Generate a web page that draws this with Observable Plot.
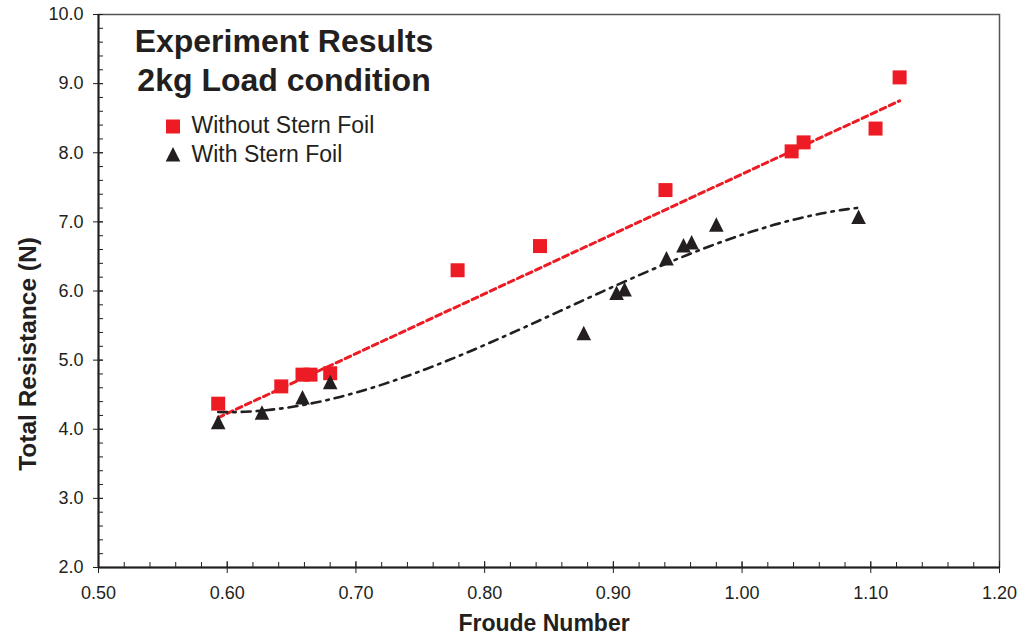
<!DOCTYPE html>
<html>
<head>
<meta charset="utf-8">
<script src="https://cdn.jsdelivr.net/npm/d3@7"></script>
<script src="https://cdn.jsdelivr.net/npm/@observablehq/plot@0.6"></script>
<style>
  html, body { margin: 0; padding: 0; background: #fff; }
  #chart svg { font-family: "Liberation Sans", Arial, sans-serif; }
</style>
</head>
<body>
<div id="chart"></div>
<script>
// ---- Data ----
const froudeWithout = [0.593, 0.642, 0.6585, 0.6647, 0.680, 0.779, 0.843, 0.9405, 1.0385, 1.0478, 1.1037, 1.1224];
const resistWithout = [4.37, 4.62, 4.79, 4.79, 4.81, 6.30, 6.65, 7.46, 8.02, 8.15, 8.35, 9.09];

const froudeWith = [0.593, 0.627, 0.6585, 0.680, 0.877, 0.9025, 0.9087, 0.9413, 0.9545, 0.9608, 0.980, 1.0905];
const resistWith = [4.10, 4.24, 4.46, 4.68, 5.39, 5.97, 6.02, 6.47, 6.66, 6.70, 6.96, 7.07];

// Linear trendline of "Without Stern Foil" as drawn in the reference: [intercept, slope]
const trendWithout = [-0.964, 8.655];

const xTicks = [0.50, 0.60, 0.70, 0.80, 0.90, 1.00, 1.10, 1.20];
const yTicks = [2, 3, 4, 5, 6, 7, 8, 9, 10];
const xMinorTicks = d3.range(0.50, 1.2001, 0.02);
const yMinorTicks = d3.range(2, 10.001, 0.2);

const titleLines = ["Experiment Results", "2kg Load condition"];
const seriesNames = ["Without Stern Foil", "With Stern Foil"];

// ---- Build tables ----
const withoutData = froudeWithout.map((x, i) => ({x, y: resistWithout[i]}));
const withData = froudeWith.map((x, i) => ({x, y: resistWith[i]}));

const [rxMin, rxMax] = d3.extent(froudeWithout);
const redTrend = [rxMin, rxMax].map(x => ({x, y: trendWithout[0] + trendWithout[1] * x}));

// Cubic least-squares trendline for "With Stern Foil"
function polyfit(xs, ys, deg) {
  const m = d3.mean(xs);
  const n = deg + 1;
  const A = Array.from({length: n}, () => new Array(n).fill(0));
  const b = new Array(n).fill(0);
  xs.forEach((x0, k) => {
    const x = x0 - m;
    for (let i = 0; i < n; i++) {
      b[i] += ys[k] * Math.pow(x, i);
      for (let j = 0; j < n; j++) A[i][j] += Math.pow(x, i + j);
    }
  });
  for (let c = 0; c < n; c++) {
    let p = c;
    for (let r = c + 1; r < n; r++) if (Math.abs(A[r][c]) > Math.abs(A[p][c])) p = r;
    [A[c], A[p]] = [A[p], A[c]]; [b[c], b[p]] = [b[p], b[c]];
    for (let r = c + 1; r < n; r++) {
      const f = A[r][c] / A[c][c];
      for (let j = c; j < n; j++) A[r][j] -= f * A[c][j];
      b[r] -= f * b[c];
    }
  }
  const coef = new Array(n).fill(0);
  for (let i = n - 1; i >= 0; i--) {
    let s = b[i];
    for (let j = i + 1; j < n; j++) s -= A[i][j] * coef[j];
    coef[i] = s / A[i][i];
  }
  return x => coef.reduce((acc, c, i) => acc + c * Math.pow(x - m, i), 0);
}
const cubic = polyfit(froudeWith, resistWith, 3);
const [fxMin, fxMax] = d3.extent(froudeWith);
const curve = d3.range(0, 121).map(i => {
  const x = fxMin + (fxMax - fxMin) * i / 120;
  return {x, y: cubic(x)};
});

// ---- Marker symbols ----
const squareSym = {draw(ctx) { const s = 7; ctx.moveTo(-s, -s); ctx.lineTo(s, -s); ctx.lineTo(s, s); ctx.lineTo(-s, s); ctx.closePath(); }};
const triSym = {draw(ctx) { ctx.moveTo(0, -7.5); ctx.lineTo(7.3, 7); ctx.lineTo(-7.3, 7); ctx.closePath(); }};

const RED = "#ed1c24";
const BLACK = "#231f20";
const FONT = "Liberation Sans, Arial, sans-serif";

const chart = Plot.plot({
  width: 1033,
  height: 642,
  marginLeft: 98,
  marginRight: 34,
  marginTop: 14,
  marginBottom: 75,
  style: {fontFamily: FONT, background: "#fff"},
  x: {domain: [0.5, 1.2]},
  y: {domain: [2, 10]},
  marks: [
    Plot.frame({stroke: "#555", strokeWidth: 1.5}),
    // minor ticks (inward)
    Plot.axisY(yMinorTicks, {tickSize: -5, tickFormat: () => "", label: null, stroke: BLACK}),
    Plot.axisX(xMinorTicks, {tickSize: -5, tickFormat: () => "", label: null, stroke: BLACK}),
    // major ticks inward part
    Plot.axisY(yTicks, {tickSize: -5, tickFormat: () => "", label: null, stroke: BLACK}),
    Plot.axisX(xTicks, {tickSize: -6, tickFormat: () => "", label: null, stroke: BLACK}),
    // major ticks + labels
    Plot.axisY(yTicks, {tickSize: 5, tickPadding: 10, tickFormat: d3.format(".1f"), label: null, fontSize: 18, fill: BLACK, stroke: BLACK}),
    Plot.axisX(xTicks, {tickSize: 6, tickPadding: 13, tickFormat: d3.format(".2f"), label: null, fontSize: 18, fill: BLACK, stroke: BLACK}),
    Plot.ruleX([0.5], {stroke: BLACK, strokeWidth: 2}),
    Plot.ruleY([2], {stroke: BLACK, strokeWidth: 2}),
    // trend lines
    Plot.line(redTrend, {x: "x", y: "y", stroke: RED, strokeWidth: 3, strokeDasharray: "6,4"}),
    Plot.line(curve, {x: "x", y: "y", stroke: BLACK, strokeWidth: 2.6, strokeDasharray: "9,6,2.5,6"}),
    // data
    Plot.dot(withoutData, {x: "x", y: "y", symbol: squareSym, fill: RED, stroke: "none"}),
    Plot.dot(withData, {x: "x", y: "y", symbol: triSym, fill: BLACK, stroke: "none"}),
    // axis titles
    Plot.text(["Total Resistance (N)"], {frameAnchor: "left", rotate: -90, dx: -70, dy: 63, textAnchor: "middle", lineAnchor: "middle", fontSize: 24.5, fontWeight: "bold", fill: BLACK}),
    Plot.text(["Froude Number"], {frameAnchor: "bottom", dx: -5, dy: 56, textAnchor: "middle", lineAnchor: "middle", fontSize: 23, fontWeight: "bold", fill: BLACK}),
    // title
    Plot.text([titleLines[0]], {frameAnchor: "top-left", dx: 185.5, dy: 27, textAnchor: "middle", lineAnchor: "middle", fontSize: 32, fontWeight: "bold", fill: BLACK}),
    Plot.text([titleLines[1]], {frameAnchor: "top-left", dx: 185.5, dy: 66, textAnchor: "middle", lineAnchor: "middle", fontSize: 32, fontWeight: "bold", fill: BLACK}),
    // legend
    Plot.dot([seriesNames[0]], {frameAnchor: "top-left", dx: 74.5, dy: 112, symbol: squareSym, fill: RED}),
    Plot.dot([seriesNames[1]], {frameAnchor: "top-left", dx: 74.5, dy: 140, symbol: triSym, fill: BLACK}),
    Plot.text([seriesNames[0]], {frameAnchor: "top-left", dx: 93, dy: 111, textAnchor: "start", lineAnchor: "middle", fontSize: 23, fill: BLACK}),
    Plot.text([seriesNames[1]], {frameAnchor: "top-left", dx: 93, dy: 140.5, textAnchor: "start", lineAnchor: "middle", fontSize: 23, fill: BLACK})
  ]
});
document.getElementById("chart").append(chart);
</script>
</body>
</html>
